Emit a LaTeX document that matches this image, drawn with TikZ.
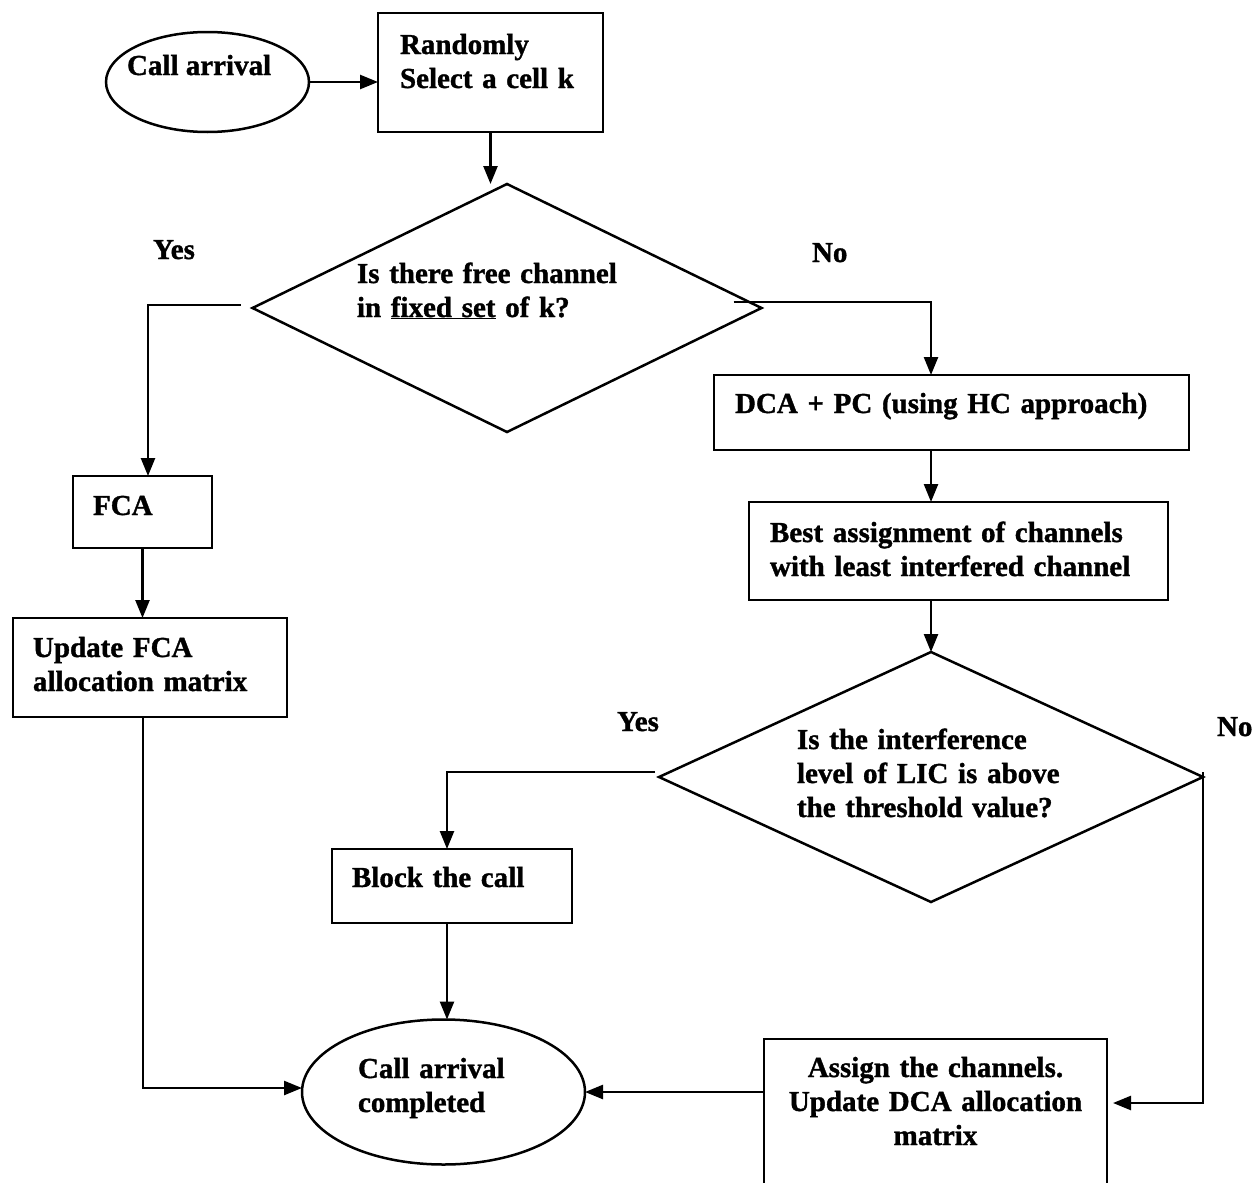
\documentclass[tikz,border=0pt]{standalone}
\usepackage{fontspec}
\setmainfont{Liberation Serif}[BoldFeatures={FakeBold=1.2}]
\usetikzlibrary{shapes.geometric,arrows.meta}
\begin{document}
\begin{tikzpicture}[x=1pt,y=-1pt,
  every node/.style={font=\fontsize{29}{34}\selectfont\bfseries},
  lbl/.style={inner sep=0pt, outer sep=0pt, anchor=base west},
  para/.style={lbl, align=left},
  box/.style={draw, line width=2.5pt, rectangle, anchor=north west,
    inner ysep=0pt, inner xsep=20pt, outer sep=0pt, align=left},
  oval/.style={draw, line width=2.5pt, ellipse, inner sep=0pt, outer sep=0pt},
  decision/.style={draw, line width=2.5pt, diamond, inner sep=0pt, outer sep=0pt},
  flow/.style={line width=2.5pt, -{Triangle[length=18pt,width=14pt]}}
]
\useasboundingbox (0,0) rectangle (1256,1183);
\fill[white] (0,0) rectangle (1256,1183);

% start / end terminals
\node[oval, minimum width=203pt, minimum height=100pt] (start) at (207.5,82) {};
\node[lbl] (startlbl) at (127,75) {Call arrival};
\node[oval, minimum width=283pt, minimum height=145pt] (done) at (443.5,1092) {};
\node[para, text width=170pt] (donelbl) at (358,1078) {Call arrival\\completed};

% process boxes (placed by their top-left corner)
\node[box, text width=181pt, inner xsep=22pt, text height=41pt, text depth=78pt]
  (pick) at (378,13) {Randomly\\Select a cell k};
\node[box, text width=99pt, text height=39pt, text depth=33pt]
  (fca) at (73,476) {FCA};
\node[box, text width=234pt, text height=39pt, text depth=60pt]
  (update) at (13,618) {Update FCA\\allocation matrix};
\node[box, text width=433pt, inner xsep=21pt, text height=38pt, text depth=37pt]
  (dca) at (714,375) {DCA + PC (using HC approach)};
\node[box, text width=377pt, inner xsep=21pt, text height=40pt, text depth=58pt]
  (best) at (749,502) {Best assignment of channels\\with least interfered channel};
\node[box, text width=200pt, text height=38pt, text depth=36pt]
  (block) at (332,849) {Block the call};
\node[box, align=center, text width=313pt, inner xsep=15pt, text height=38pt, text depth=118pt]
  (assign) at (764,1039) {Assign the channels.\\Update DCA allocation\\matrix};

% decisions
\node[decision, minimum width=509pt, minimum height=248pt] (q1) at (507,308) {};
\node[para, text width=270pt] (q1lbl) at (357,283)
  {Is there free channel\\in \underline{fixed set} of k?};
\node[decision, minimum width=544pt, minimum height=250pt] (q2) at (931,777) {};
\node[para, text width=290pt] (q2lbl) at (797,749)
  {Is the interference\\level of LIC is above\\the threshold value?};

% branch labels
\node[lbl] (yes1) at (153,259) {Yes};
\node[lbl] (no1) at (812,262) {No};
\node[lbl] (yes2) at (617,731) {Yes};
\node[lbl] (no2) at (1217,736) {No};

% connectors
\draw[flow] (start.east) -- (start.east -| pick.west);
\draw[flow] (pick.south) -- (pick.south |- q1.north);
\draw[flow, shorten <=12pt] ([yshift=3pt]q1.west) -| ([xshift=5.5pt]fca.north);
\draw[flow] ([shift={(-28pt,6pt)}]q1.east) -| (dca.north -| q2.north);
\draw[flow] (fca.south) -- (fca.south |- update.north);
\draw[flow] (dca.south -| q2.north) -- (best.north -| q2.north);
\draw[flow] (best.south -| q2.north) -- (q2.north);
\draw[flow] ([shift={(-4pt,5pt)}]q2.west) -| ([xshift=-5pt]block.north);
\draw[flow] ([xshift=-5pt]block.south) -- ([xshift=-5pt]block.south |- done.north);
\draw[flow] ([xshift=-7pt]update.south) |- ([yshift=4pt]done.west);
\draw[flow, shorten >=6pt] ([yshift=5pt]q2.east) |- ([yshift=14pt]assign.east);
\draw[flow] (done.east -| assign.west) -- (done.east);
\end{tikzpicture}
\end{document}
